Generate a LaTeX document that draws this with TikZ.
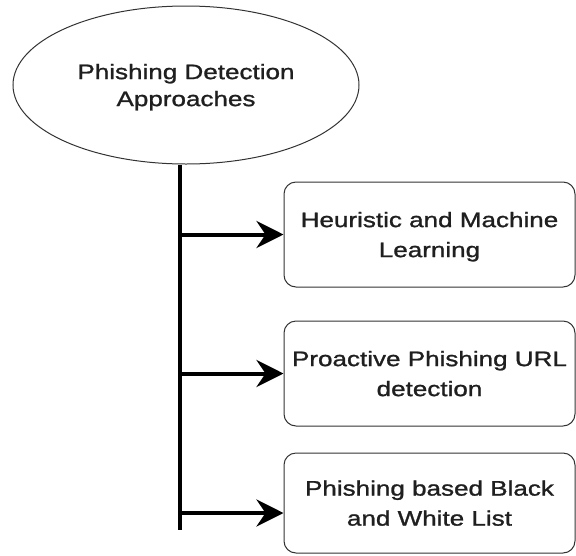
\documentclass[tikz,border=0pt]{standalone}
\usepackage{fontspec}
\setmainfont{Liberation Sans}[FakeStretch=1.24,FakeBold=1.2]
\usetikzlibrary{shapes.geometric,arrows.meta,calc}
\begin{document}
\begin{tikzpicture}[x=1pt,y=-1pt,
  txt/.style={align=center,text=black!88,text depth=0pt},
  rootnode/.style={txt,font=\fontsize{21}{27}\selectfont,ellipse,draw=black!80,line width=1pt,minimum width=346pt,minimum height=158pt,inner sep=0pt},
  boxnode/.style={txt,font=\fontsize{21}{30}\selectfont,draw=black!80,line width=1pt,rounded corners=12pt,minimum width=291pt,inner sep=0pt},
  trunk/.style={line width=4pt,black},
  branch/.style={line width=4pt,black,-{Stealth[length=27pt,width=27pt,inset=9pt]}}]
\useasboundingbox (0,0) rectangle (576,555);
\node[rootnode] (root) at (186,85) {Phishing Detection\\Approaches};
\node[boxnode,minimum height=105pt] (h) at (429.5,234.5) {Heuristic and Machine\\Learning};
\node[boxnode,minimum height=105pt] (p) at (429.5,373.5) {Proactive Phishing URL\\detection};
\node[boxnode,minimum height=100pt] (b) at (429.5,503) {Phishing based Black\\and White List};
\coordinate (t) at (180,530);
\draw[trunk] (root.south -| t) -- (t);
\draw[branch] (t |- h.west) -- (h.west);
\draw[branch] (t |- p.west) -- (p.west);
\draw[branch] ($(t |- b.west)+(0,10)$) -- ($(b.west)+(0,10)$);
\end{tikzpicture}
\end{document}
